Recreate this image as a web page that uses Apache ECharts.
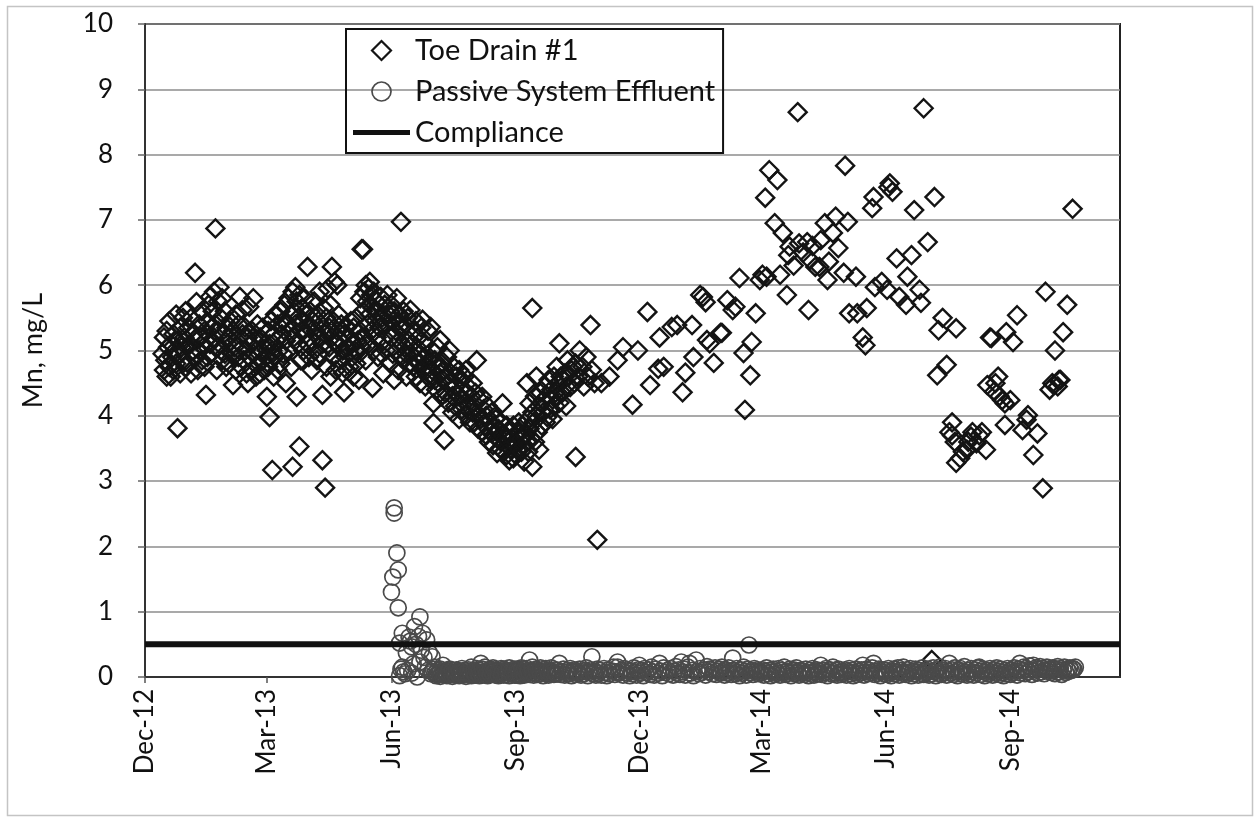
<!DOCTYPE html>
<html><head><meta charset="utf-8">
<script src="https://cdn.jsdelivr.net/npm/echarts@6/dist/echarts.min.js"></script>
<style>html,body{margin:0;padding:0;background:#fff}#c{width:1256px;height:818px}</style>
</head><body><div id="c"></div>
<script>
// ---- axis / tick data ----
const tickDates = ['2012-12-01','2013-03-01','2013-06-01','2013-09-01','2013-12-01','2014-03-01','2014-06-01','2014-09-01'];
const tickLabels = ['Dec-12','Mar-13','Jun-13','Sep-13','Dec-13','Mar-14','Jun-14','Sep-14'];
const axisStart = '2012-12-01';
const axisEnd = '2014-11-21';
const yMin = 0, yMax = 10, yStep = 1;
const complianceLevel = 0.5;
const seriesNames = ['Toe Drain #1', 'Passive System Effluent', 'Compliance'];

// ---- Toe Drain #1 : [day of month, Mn mg/L] ----
const toeDec12 = [[14,4.95],[15,5.2],[15,4.7],[16,4.85],[17,5.3],[17,4.6],[18,5.05],[19,4.75],[19,5.45],[20,4.6],[20,5.1],[21,4.9],[22,5.25],[22,4.7],[23,5.0],[24,5.55],[24,4.8],[25,3.81],[25,5.15],[26,4.95],[27,5.35],[27,4.65],[28,5.05],[29,4.85],[29,5.5],[30,5.2],[31,4.75],[31,5.6]];
const toeJan13 = [[1,5.05],[2,4.8],[2,5.35],[3,5.1],[4,4.65],[4,5.5],[5,5.0],[6,5.25],[7,6.19],[7,4.9],[8,5.74],[8,5.15],[9,4.7],[10,5.4],[10,5.0],[11,5.2],[12,4.85],[12,5.6],[13,5.05],[14,5.3],[14,4.75],[15,4.32],[15,5.15],[16,5.45],[16,4.9],[17,5.7],[18,5.82],[18,5.1],[19,5.35],[19,4.95],[20,5.6],[21,5.2],[21,5.9],[22,6.87],[22,5.4],[23,4.7],[23,5.05],[24,5.75],[24,5.3],[25,5.97],[26,5.5],[26,5.0],[27,5.8],[27,4.85],[28,5.25],[29,5.6],[29,4.95],[30,4.75],[30,5.35],[31,5.1]];
const toeFeb13 = [[1,5.2],[1,4.8],[2,5.45],[3,4.95],[4,4.47],[4,5.3],[5,5.05],[6,5.55],[6,4.7],[7,5.15],[8,4.9],[8,5.4],[9,5.82],[9,5.0],[10,4.75],[11,5.62],[11,5.25],[12,4.85],[13,5.35],[13,5.0],[14,4.65],[15,4.5],[15,5.2],[16,5.67],[16,4.9],[17,5.1],[18,4.7],[18,5.3],[19,5.8],[19,4.95],[20,5.15],[21,4.6],[21,5.0],[22,5.4],[23,4.8],[24,4.65],[24,5.2],[25,5.0],[26,4.85],[26,5.35],[27,4.7],[28,5.1],[28,4.9]];
const toeMar13 = [[1,4.29],[1,5.0],[2,4.75],[2,5.3],[3,3.98],[3,5.1],[4,4.85],[4,5.45],[5,3.17],[5,5.0],[6,4.6],[6,5.25],[7,5.55],[7,4.9],[8,5.15],[9,4.7],[9,5.4],[10,5.0],[11,5.6],[11,4.8],[12,5.25],[13,5.45],[13,4.95],[14,5.7],[15,5.15],[15,4.5],[16,5.4],[17,5.8],[17,5.0],[18,5.3],[19,5.55],[19,4.75],[20,3.22],[20,5.9],[21,5.2],[21,5.6],[22,5.97],[22,5.4],[23,4.29],[23,5.75],[24,5.1],[24,5.5],[25,3.53],[25,5.85],[26,5.3],[26,4.85],[27,5.65],[28,5.45],[28,5.0],[29,5.8],[30,5.25],[30,5.55],[31,6.28],[31,5.1]];
const toeApr13 = [[1,5.35],[1,4.9],[2,5.6],[3,5.15],[3,4.7],[4,5.45],[5,5.0],[5,5.75],[6,5.3],[7,4.85],[7,5.55],[8,5.2],[9,5.9],[9,4.95],[10,5.4],[11,3.32],[11,4.32],[11,5.1],[12,5.65],[13,2.9],[13,5.25],[14,4.75],[14,5.5],[15,5.95],[16,5.05],[16,5.35],[17,4.6],[17,5.7],[18,6.28],[18,5.2],[19,4.9],[19,5.45],[20,6.05],[21,5.1],[21,4.7],[22,6.0],[22,5.3],[23,5.55],[24,4.85],[24,5.15],[25,5.4],[26,4.65],[26,5.0],[27,4.36],[27,5.25],[28,4.9],[29,5.35],[29,4.7],[30,5.05]];
const toeMay13 = [[1,5.2],[1,4.75],[2,5.45],[3,4.9],[3,5.1],[4,4.6],[4,5.35],[5,5.0],[6,4.8],[6,5.5],[7,5.15],[8,4.55],[8,4.95],[9,5.3],[9,5.8],[10,6.55],[10,5.05],[11,6.55],[11,5.6],[12,5.9],[12,5.2],[13,6.0],[13,4.85],[14,5.75],[14,5.4],[15,5.95],[15,5.1],[16,5.55],[16,6.05],[17,5.3],[17,5.85],[18,4.43],[18,5.65],[19,5.0],[19,5.9],[20,5.45],[21,5.75],[21,5.2],[22,4.9],[22,5.6],[23,5.35],[24,5.82],[24,4.96],[25,5.5],[26,5.15],[26,4.65],[27,5.7],[28,5.4],[28,5.0],[29,5.85],[29,5.25],[30,5.55],[31,4.8],[31,5.6]];
const toeJun13 = [[1,5.2],[1,5.7],[2,4.95],[2,5.45],[3,5.6],[3,4.55],[4,5.3],[5,5.8],[5,5.0],[6,5.45],[6,4.7],[7,5.15],[7,5.55],[8,6.97],[8,4.9],[9,5.35],[10,5.6],[10,4.85],[11,5.05],[11,5.4],[12,4.6],[12,4.95],[13,5.5],[14,5.15],[14,4.8],[15,5.62],[15,4.95],[16,5.1],[17,4.75],[17,5.3],[18,4.9],[19,5.45],[19,4.6],[20,5.05],[21,4.8],[21,5.2],[22,4.5],[22,4.95],[23,5.35],[24,5.47],[24,4.7],[25,4.9],[26,4.45],[26,5.1],[27,4.75],[28,5.3],[28,4.6],[29,4.85],[30,5.36],[30,4.55]];
const toeJul13 = [[1,4.7],[1,5.0],[2,4.19],[2,3.89],[3,4.55],[3,4.85],[4,4.4],[5,4.75],[5,5.05],[6,4.5],[7,5.16],[7,4.65],[8,4.3],[8,4.8],[9,4.55],[10,3.63],[10,4.7],[11,4.35],[12,4.6],[12,4.9],[13,4.2],[14,5.0],[14,4.5],[15,4.65],[16,4.3],[16,4.05],[17,4.75],[18,4.45],[18,4.15],[19,4.6],[20,4.3],[21,4.7],[21,3.95],[22,4.4],[23,4.55],[23,4.1],[24,4.25],[25,4.6],[26,4.7],[26,4.0],[27,4.35],[28,4.44],[28,4.15],[29,3.9],[30,4.3],[31,4.05],[31,4.5]];
const toeAug13 = [[1,4.2],[1,3.9],[2,4.35],[3,4.85],[3,4.05],[4,3.8],[5,4.25],[6,3.95],[7,4.29],[7,3.75],[8,4.1],[9,3.85],[10,4.0],[10,3.7],[11,4.15],[12,3.6],[12,3.9],[13,3.75],[14,4.05],[15,3.55],[15,3.85],[16,3.7],[17,3.95],[18,3.43],[18,3.65],[19,3.8],[20,3.5],[21,3.9],[21,3.6],[22,4.19],[22,3.7],[23,3.45],[24,3.65],[25,3.85],[25,3.4],[26,3.6],[27,3.32],[27,3.75],[28,3.5],[29,3.65],[30,3.35],[30,3.85],[31,3.55]];
const toeSep13 = [[1,3.6],[1,3.4],[2,3.75],[3,3.5],[3,3.9],[4,3.74],[5,3.45],[5,3.65],[6,3.85],[7,3.55],[7,3.3],[8,3.7],[9,4.5],[9,3.6],[10,3.95],[10,3.45],[11,4.19],[11,3.8],[12,3.65],[13,5.65],[13,3.22],[13,4.05],[14,3.9],[15,4.3],[15,3.6],[16,4.6],[16,4.0],[17,3.75],[18,3.48],[18,4.15],[19,4.35],[20,3.85],[21,4.24],[21,4.05],[22,4.45],[23,3.9],[24,3.98],[24,4.3],[25,4.55],[26,4.1],[27,4.4],[28,3.95],[28,4.25],[29,4.6],[30,4.35],[30,4.15]];
const toeOct13 = [[1,4.75],[1,4.3],[2,4.5],[3,5.11],[3,4.2],[4,4.6],[5,4.35],[6,4.55],[7,4.65],[8,4.15],[8,4.45],[9,4.85],[10,4.6],[11,4.44],[12,4.7],[13,4.75],[14,4.5],[15,3.37],[15,4.8],[17,4.6],[18,5.0],[20,4.75],[21,4.45],[23,4.9],[24,4.6],[26,5.39],[27,4.7],[29,4.5],[31,2.1]];
const toeNov13 = [[3,4.5],[9,4.6],[15,4.85],[19,5.05],[26,4.17],[30,5.0]];
const toeDec13 = [[7,5.59],[9,4.47],[15,4.72],[16,5.2],[19,4.75],[25,5.36],[29,5.39]];
const toeJan14 = [[2,4.36],[4,4.66],[9,5.39],[10,4.9],[15,5.85],[17,5.82],[19,5.74],[20,5.16],[22,5.11],[25,4.81],[30,5.27],[31,5.27]];
const toeFeb14 = [[4,5.77],[8,5.62],[10,5.67],[13,6.11],[16,4.96],[17,4.09],[21,4.62],[22,5.13],[25,5.57],[28,6.08]];
const toeMar14 = [[2,6.16],[4,7.34],[5,6.13],[7,7.76],[11,6.95],[13,7.61],[15,6.16],[17,6.8],[20,5.85],[21,6.46],[22,6.59],[25,6.3],[28,8.65],[29,6.64]];
const toeApr14 = [[1,6.5],[4,6.66],[5,5.62],[6,6.39],[8,6.6],[10,6.28],[13,6.28],[14,6.69],[17,6.95],[19,6.08],[20,6.36],[23,6.8],[25,7.05],[27,6.57]];
const toeMay14 = [[1,6.19],[2,7.83],[4,6.97],[5,5.57],[10,6.13],[11,5.57],[15,5.2],[17,5.08],[18,5.65],[22,7.18],[23,7.35],[24,5.97],[29,6.05]];
const toeJun14 = [[2,5.93],[3,7.5],[4,7.56],[6,7.43],[9,6.41],[11,5.82],[16,5.7],[17,6.13],[20,6.46],[22,7.15],[26,5.93],[27,5.73],[29,8.71]];
const toeJul14 = [[2,6.66],[5,0.26],[7,7.35],[9,4.62],[10,5.31],[13,5.5],[16,4.78],[18,3.75],[20,3.9],[20,3.7],[22,3.6],[23,5.34],[23,3.28],[26,3.35],[28,3.45],[31,3.48]];
const toeAug14 = [[1,3.6],[3,3.68],[4,3.75],[7,3.58],[9,3.7],[11,3.75],[14,3.48],[15,4.47],[17,5.2],[18,5.19],[20,4.37],[21,4.5],[23,4.6],[24,4.3],[26,4.24],[28,3.86],[28,4.19],[29,5.28]];
const toeSep14 = [[1,4.24],[3,5.13],[6,5.54],[10,3.78],[13,3.94],[14,4.01],[18,3.4],[21,3.73],[25,2.89],[27,5.9],[30,4.4]];
const toeOct14 = [[2,4.5],[3,4.47],[4,5.0],[6,4.45],[7,4.55],[8,4.55],[10,5.28],[13,5.7],[17,7.17]];

// ---- Passive System Effluent : [day of month, Mn mg/L] ----
const effJun13 = [[1,1.3],[2,1.53],[3,2.59],[3,2.51],[5,1.9],[6,1.64],[6,1.06],[7,0.52],[7,0.02],[8,0.12],[9,0.67],[9,0.15],[10,0.08],[11,0.05],[12,0.37],[13,0.1],[14,0.61],[15,0.55],[16,0.46],[16,0.06],[17,0.2],[18,0.77],[19,0.5],[20,0.0],[21,0.62],[22,0.92],[22,0.23],[23,0.41],[24,0.67],[25,0.3],[26,0.15],[27,0.57],[28,0.1],[29,0.37],[30,0.05]];
const effJul13 = [[1,0.31],[1,0.08],[2,0.12],[3,0.05],[3,0.15],[4,0.02],[5,0.1],[5,0.04],[6,0.07],[7,0.12],[7,0.01],[8,0.05],[9,0.18],[9,0.08],[10,0.03],[11,0.1],[11,0.06],[12,0.02],[13,0.09],[14,0.04],[14,0.12],[15,0.07],[16,0.01],[16,0.1],[17,0.05],[18,0.08],[18,0.03],[19,0.11],[20,0.06],[21,0.02],[21,0.09],[22,0.05],[23,0.13],[23,0.07],[24,0.03],[25,0.1],[26,0.06],[26,0.01],[27,0.08],[28,0.04],[28,0.11],[29,0.06],[30,0.15],[30,0.02],[31,0.08]];
const effAug13 = [[1,0.05],[1,0.1],[2,0.03],[3,0.08],[3,0.13],[4,0.06],[5,0.02],[5,0.1],[6,0.21],[7,0.04],[7,0.12],[8,0.08],[9,0.03],[9,0.15],[10,0.06],[11,0.1],[11,0.02],[12,0.07],[13,0.12],[13,0.04],[14,0.08],[15,0.05],[15,0.14],[16,0.09],[17,0.03],[17,0.11],[18,0.06],[19,0.1],[19,0.02],[20,0.07],[21,0.13],[21,0.05],[22,0.09],[23,0.03],[23,0.12],[24,0.07],[25,0.1],[25,0.04],[26,0.08],[27,0.14],[27,0.02],[28,0.06],[29,0.11],[29,0.05],[30,0.09],[31,0.03],[31,0.12]];
const effSep13 = [[1,0.08],[1,0.03],[2,0.12],[3,0.05],[3,0.1],[4,0.02],[5,0.09],[5,0.14],[6,0.06],[7,0.11],[7,0.03],[8,0.08],[9,0.13],[9,0.05],[10,0.09],[11,0.26],[11,0.04],[12,0.1],[13,0.07],[13,0.15],[14,0.03],[15,0.11],[16,0.06],[16,0.12],[17,0.04],[18,0.09],[19,0.14],[19,0.05],[20,0.08],[21,0.02],[21,0.11],[22,0.07],[23,0.13],[24,0.05],[24,0.09],[25,0.03],[26,0.1],[27,0.06],[27,0.14],[28,0.08],[29,0.04],[30,0.11],[30,0.06]];
const effOct13 = [[1,0.05],[2,0.1],[3,0.21],[4,0.04],[5,0.08],[6,0.12],[7,0.03],[8,0.07],[9,0.1],[10,0.05],[11,0.13],[12,0.02],[13,0.08],[14,0.11],[15,0.04],[16,0.09],[17,0.06],[18,0.12],[19,0.03],[20,0.08],[21,0.05],[22,0.1],[23,0.14],[24,0.02],[25,0.07],[26,0.11],[27,0.31],[28,0.05],[29,0.09],[30,0.03],[31,0.12]];
const effNov13 = [[1,0.06],[2,0.1],[3,0.03],[5,0.13],[6,0.07],[7,0.02],[8,0.11],[9,0.05],[11,0.09],[12,0.15],[13,0.04],[14,0.08],[15,0.23],[15,0.15],[16,0.06],[18,0.1],[19,0.03],[20,0.13],[21,0.07],[22,0.11],[24,0.02],[25,0.09],[26,0.05],[27,0.14],[28,0.08],[29,0.03],[30,0.11]];
const effDec13 = [[1,0.18],[2,0.06],[3,0.1],[4,0.02],[5,0.13],[6,0.07],[8,0.11],[9,0.04],[10,0.15],[11,0.08],[12,0.03],[13,0.12],[15,0.06],[16,0.21],[17,0.09],[18,0.02],[19,0.14],[20,0.07],[22,0.1],[23,0.05],[24,0.13],[26,0.03],[27,0.09],[28,0.16],[29,0.06],[30,0.11],[31,0.04]];
const effJan14 = [[1,0.23],[2,0.08],[3,0.12],[4,0.03],[6,0.15],[7,0.21],[8,0.06],[9,0.1],[10,0.02],[12,0.26],[13,0.09],[14,0.05],[15,0.13],[16,0.07],[18,0.11],[19,0.03],[20,0.16],[21,0.08],[22,0.12],[24,0.05],[25,0.1],[26,0.14],[27,0.04],[28,0.09],[29,0.12],[30,0.06],[31,0.15]];
const effFeb14 = [[1,0.08],[2,0.03],[3,0.11],[4,0.06],[5,0.14],[6,0.09],[7,0.04],[8,0.29],[9,0.1],[10,0.05],[11,0.13],[12,0.07],[13,0.02],[14,0.11],[15,0.06],[16,0.15],[17,0.09],[18,0.03],[19,0.12],[20,0.49],[21,0.07],[22,0.1],[23,0.04],[24,0.13],[25,0.08],[26,0.11],[27,0.05],[28,0.09]];
const effMar14 = [[1,0.06],[2,0.11],[3,0.03],[4,0.09],[5,0.14],[6,0.05],[7,0.1],[8,0.02],[9,0.08],[10,0.12],[11,0.04],[12,0.09],[13,0.06],[14,0.13],[15,0.03],[16,0.1],[17,0.07],[18,0.15],[19,0.04],[20,0.09],[21,0.06],[22,0.12],[23,0.02],[24,0.08],[25,0.11],[26,0.05],[27,0.14],[28,0.07],[29,0.03],[30,0.1],[31,0.06]];
const effApr14 = [[1,0.09],[2,0.04],[3,0.12],[4,0.07],[5,0.02],[6,0.1],[7,0.06],[8,0.13],[9,0.03],[10,0.08],[11,0.11],[12,0.05],[13,0.09],[14,0.18],[15,0.04],[16,0.1],[17,0.07],[18,0.13],[19,0.02],[20,0.08],[21,0.11],[22,0.05],[23,0.15],[24,0.06],[25,0.1],[26,0.03],[27,0.12],[28,0.07],[29,0.04],[30,0.09]];
const effMay14 = [[1,0.06],[2,0.11],[3,0.03],[4,0.08],[5,0.13],[6,0.05],[7,0.1],[8,0.02],[9,0.07],[10,0.12],[11,0.04],[12,0.09],[13,0.06],[14,0.11],[15,0.18],[16,0.03],[17,0.08],[18,0.12],[19,0.05],[20,0.1],[21,0.07],[22,0.14],[23,0.21],[24,0.04],[25,0.09],[26,0.06],[27,0.12],[28,0.02],[29,0.08],[30,0.11],[31,0.05]];
const effJun14 = [[1,0.1],[2,0.04],[3,0.13],[4,0.07],[5,0.02],[6,0.09],[7,0.12],[8,0.05],[9,0.08],[10,0.14],[11,0.03],[12,0.1],[13,0.06],[14,0.15],[15,0.08],[16,0.04],[17,0.11],[18,0.07],[19,0.13],[20,0.02],[21,0.09],[22,0.05],[23,0.12],[24,0.08],[25,0.03],[26,0.1],[27,0.06],[28,0.14],[29,0.04],[30,0.09]];
const effJul14 = [[1,0.07],[2,0.12],[3,0.03],[4,0.09],[5,0.05],[6,0.14],[7,0.08],[8,0.02],[9,0.11],[10,0.06],[11,0.15],[12,0.04],[13,0.1],[14,0.07],[15,0.13],[16,0.03],[17,0.09],[18,0.21],[19,0.06],[20,0.11],[21,0.04],[22,0.14],[23,0.08],[24,0.02],[25,0.1],[26,0.13],[27,0.05],[28,0.09],[29,0.16],[30,0.07],[31,0.03]];
const effAug14 = [[1,0.1],[2,0.05],[3,0.13],[4,0.08],[5,0.03],[6,0.11],[7,0.06],[8,0.14],[9,0.15],[10,0.04],[11,0.09],[12,0.12],[13,0.02],[14,0.07],[15,0.1],[16,0.05],[17,0.13],[18,0.08],[19,0.03],[20,0.11],[21,0.06],[22,0.14],[23,0.09],[24,0.04],[25,0.12],[26,0.07],[27,0.02],[28,0.1],[29,0.05],[30,0.13],[31,0.08]];
const effSep14 = [[1,0.04],[2,0.11],[3,0.07],[4,0.14],[5,0.09],[6,0.03],[7,0.12],[8,0.21],[9,0.06],[10,0.1],[11,0.15],[12,0.05],[13,0.13],[14,0.08],[15,0.17],[16,0.11],[17,0.04],[18,0.18],[19,0.09],[20,0.14],[21,0.06],[22,0.12],[23,0.16],[24,0.08],[25,0.13],[26,0.05],[27,0.11],[28,0.15],[29,0.09],[30,0.12]];
const effOct14 = [[1,0.07],[2,0.14],[3,0.1],[4,0.05],[5,0.12],[6,0.16],[7,0.08],[8,0.13],[9,0.04],[10,0.11],[11,0.15],[12,0.07],[13,0.12],[14,0.09],[15,0.14],[16,0.1],[17,0.13],[18,0.12],[19,0.15]];

const toeMonths = [['2012-12',toeDec12],['2013-01',toeJan13],['2013-02',toeFeb13],['2013-03',toeMar13],['2013-04',toeApr13],['2013-05',toeMay13],['2013-06',toeJun13],['2013-07',toeJul13],['2013-08',toeAug13],['2013-09',toeSep13],['2013-10',toeOct13],['2013-11',toeNov13],['2013-12',toeDec13],['2014-01',toeJan14],['2014-02',toeFeb14],['2014-03',toeMar14],['2014-04',toeApr14],['2014-05',toeMay14],['2014-06',toeJun14],['2014-07',toeJul14],['2014-08',toeAug14],['2014-09',toeSep14],['2014-10',toeOct14]];
const effMonths = [['2013-06',effJun13],['2013-07',effJul13],['2013-08',effAug13],['2013-09',effSep13],['2013-10',effOct13],['2013-11',effNov13],['2013-12',effDec13],['2014-01',effJan14],['2014-02',effFeb14],['2014-03',effMar14],['2014-04',effApr14],['2014-05',effMay14],['2014-06',effJun14],['2014-07',effJul14],['2014-08',effAug14],['2014-09',effSep14],['2014-10',effOct14]];

function toTime(s){ const p = s.split('-').map(Number); return Date.UTC(p[0], p[1]-1, p[2]); }
function build(months){
  const out = [];
  months.forEach(([ym, arr]) => { const p = ym.split('-').map(Number);
    arr.forEach(([d, v]) => out.push([Date.UTC(p[0], p[1]-1, d), v])); });
  return out;
}
const tickTimes = tickDates.map(toTime);
const FONT = 'Lato, "Open Sans", sans-serif';

const chart = echarts.init(document.getElementById('c'), null, {renderer:'canvas'});
chart.setOption({
  animation: false,
  backgroundColor: '#fff',
  graphic: [{ type:'rect', left:5, top:4, shape:{x:0,y:0,width:1245,height:809}, style:{fill:'none', stroke:'#c4c4c4', lineWidth:1.5}, silent:true, z:-1 }],
  grid: { left:145, top:24, right:136, bottom:141, show:true, borderColor:'#222', borderWidth:2, backgroundColor:'transparent' },
  legend: {
    orient:'vertical', left:346, top:29,
    data: [
      { name: seriesNames[0], icon:'path://M8,0L16,8L8,16L0,8Z', itemStyle:{ color:'rgba(0,0,0,0)', borderColor:'#141414', borderWidth:2.2 } },
      { name: seriesNames[1], icon:'path://M16,8A8,8,0,1,1,0,8A8,8,0,1,1,16,8Z', itemStyle:{ color:'rgba(0,0,0,0)', borderColor:'#4a4a4a', borderWidth:1.7 } },
      { name: seriesNames[2], icon:'path://M0,0H57V5H0Z', itemStyle:{ color:'#111', borderWidth:0 } }
    ],
    symbolKeepAspect: true,
    borderColor:'#111', borderWidth:2, padding:[7,8,6,7],
    itemWidth:57, itemHeight:19, itemGap:12,
    textStyle:{ fontSize:29, color:'#111', fontFamily:FONT },
    backgroundColor:'transparent'
  },
  xAxis: {
    type:'value', min: toTime(axisStart), max: toTime(axisEnd),
    axisLine:{ show:true, onZero:false, lineStyle:{ color:'#333', width:2 } },
    axisTick:{ show:true, customValues: tickTimes, length:6, lineStyle:{ color:'#555', width:1.5 } },
    axisLabel:{ customValues: tickTimes, rotate:90, margin:12, fontSize:26, color:'#111', fontFamily:FONT, showMinLabel:true, showMaxLabel:true,
      formatter: v => { let best=0; tickTimes.forEach((t,i)=>{ if (Math.abs(t-v) < Math.abs(tickTimes[best]-v)) best=i; }); return tickLabels[best]; } },
    splitLine:{ show:false }
  },
  yAxis: {
    type:'value', min:yMin, max:yMax, interval:yStep,
    name:'Mn, mg/L', nameLocation:'middle', nameGap:98,
    nameTextStyle:{ fontSize:27, color:'#111', fontFamily:FONT },
    axisLine:{ show:true, lineStyle:{ color:'#333', width:2 } },
    axisTick:{ show:true, length:7, lineStyle:{ color:'#666', width:1.5 } },
    axisLabel:{ margin:32, fontSize:26, color:'#111', fontFamily:FONT },
    splitLine:{ show:true, lineStyle:{ color:'#8c8c8c', width:1.5 } }
  },
  series: [
    { name: seriesNames[0], type:'scatter', symbol:'diamond', symbolSize:18, clip:false, large:false,
      itemStyle:{ color:'rgba(0,0,0,0)', borderColor:'#141414', borderWidth:2.4, opacity:1 },
      data: build(toeMonths), z:2 },
    { name: seriesNames[1], type:'scatter', symbol:'circle', symbolSize:16, clip:false, large:false,
      itemStyle:{ color:'rgba(0,0,0,0)', borderColor:'#4a4a4a', borderWidth:1.7, opacity:1 },
      data: build(effMonths), z:3 },
    { name: seriesNames[2], type:'line', symbol:'none', silent:true,
      lineStyle:{ color:'#111', width:6 }, itemStyle:{ color:'#111' },
      data: [[toTime(axisStart), complianceLevel],[toTime(axisEnd), complianceLevel]], z:4 }
  ]
});
</script></body></html>
